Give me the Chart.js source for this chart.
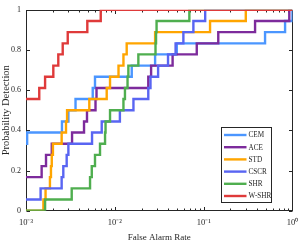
<!DOCTYPE html>
<html>
<head>
<meta charset="utf-8">
<script src="https://cdn.jsdelivr.net/npm/chart.js@4.4.1/dist/chart.umd.min.js"></script>
<style>
  html, body { margin: 0; padding: 0; background: #fff; }
  #wrap { width: 300px; height: 245px; }
</style>
</head>
<body>
<div id="wrap"><canvas id="roc"></canvas></div>
<script>
// ROC curves, false alarm rate (log) vs probability of detection
const seriesNames = ['CEM', 'ACE', 'STD', 'CSCR', 'SHR', 'W-SHR'];
const seriesColors = ['#4b96ff', '#7d2b9c', '#ffa500', '#5965f2', '#4fae4f', '#df3a3a'];

const cemFar = [0.001, 0.00103, 0.00254, 0.0030, 0.00361, 0.00564, 0.00598, 0.0155, 0.0284, 0.0498, 0.491, 0.825, 1];
const cemPd  = [0.333, 0.389, 0.444, 0.5, 0.556, 0.611, 0.667, 0.722, 0.778, 0.833, 0.889, 0.944, 1];

const aceFar = [0.001, 0.0015, 0.00168, 0.00195, 0.0033, 0.0045, 0.00486, 0.00606, 0.00622, 0.0238, 0.0256, 0.0447, 0.0836, 0.146, 0.379, 0.92, 1];
const acePd  = [0.167, 0.222, 0.278, 0.333, 0.389, 0.444, 0.5, 0.556, 0.611, 0.667, 0.722, 0.778, 0.833, 0.889, 0.944, 1, 1];

const stdFar = [0.001, 0.00157, 0.00166, 0.00186, 0.00191, 0.00195, 0.00201, 0.00252, 0.00282, 0.0029, 0.00516, 0.0081, 0.00883, 0.011, 0.0125, 0.0136, 0.0284, 0.118, 0.298, 1];
const stdPd  = [0, 0.056, 0.111, 0.167, 0.222, 0.278, 0.333, 0.389, 0.444, 0.5, 0.556, 0.611, 0.667, 0.722, 0.778, 0.833, 0.889, 0.944, 1, 1];

const cscrFar = [0.001, 0.00146, 0.00252, 0.00263, 0.00287, 0.0030, 0.00554, 0.00712, 0.0114, 0.0162, 0.0238, 0.0252, 0.0307, 0.0397, 0.0483, 0.0591, 0.0766, 0.104, 1];
const cscrPd  = [0.056, 0.111, 0.167, 0.222, 0.278, 0.333, 0.389, 0.444, 0.5, 0.556, 0.611, 0.667, 0.722, 0.778, 0.833, 0.889, 0.944, 1, 1];

const shrFar = [0.001, 0.00164, 0.00327, 0.00526, 0.0055, 0.00598, 0.00681, 0.00776, 0.00786, 0.00883, 0.0125, 0.013, 0.0139, 0.0142, 0.0184, 0.0287, 0.0291, 0.0295, 0.069, 1];
const shrPd  = [0, 0.056, 0.111, 0.167, 0.222, 0.278, 0.333, 0.389, 0.444, 0.5, 0.556, 0.611, 0.667, 0.722, 0.778, 0.833, 0.889, 0.944, 1, 1];

const wshrFar = [0.001, 0.00141, 0.00164, 0.00203, 0.00231, 0.00259, 0.00295, 0.0049, 0.00694, 1];
const wshrPd  = [0.556, 0.611, 0.667, 0.722, 0.778, 0.833, 0.889, 0.944, 1, 1];

const xTickValues = [0.001, 0.01, 0.1, 1];
const xTickLabels = ['10\u207B\u00B3', '10\u207B\u00B2', '10\u207B\u00B9', '10\u2070'];
const yTickLabels = ['0', '0.2', '0.4', '0.6', '0.8', '1'];

const allFar = [cemFar, aceFar, stdFar, cscrFar, shrFar, wshrFar];
const allPd = [cemPd, acePd, stdPd, cscrPd, shrPd, wshrPd];

const FONT = 'Liberation Serif, Times New Roman, serif';
const INK = '#262626';

const datasets = seriesNames.map((name, i) => ({
    label: name,
    data: allFar[i].map((x, j) => ({ x: x, y: allPd[i][j] })),
    borderColor: seriesColors[i],
    backgroundColor: seriesColors[i],
    borderWidth: 2.4,
    pointRadius: 0,
    stepped: true,
    fill: false,
    order: seriesNames.length - i
}));

// box around the plot plus inward tick marks
const frameTicks = {
    id: 'frameTicks',
    beforeDatasetsDraw(chart) {
        const ctx = chart.ctx;
        const a = chart.chartArea;
        const xs = chart.scales.x;
        const ys = chart.scales.y;
        ctx.save();
        ctx.strokeStyle = INK;
        ctx.lineWidth = 1;
        const L = Math.round(a.left) + 0.5, R = Math.round(a.right) - 0.5;
        const T = Math.round(a.top) + 0.5, B = Math.round(a.bottom) - 0.5;
        ctx.strokeRect(L, T, R - L, B - T);
        ctx.beginPath();
        for (let e = -3; e < 0; e++) {
            for (let m = 1; m <= 9; m++) {
                const px = Math.round(xs.getPixelForValue(m * Math.pow(10, e))) + 0.5;
                const len = m === 1 ? 3.5 : 2;
                ctx.moveTo(px, B); ctx.lineTo(px, B - len);
                ctx.moveTo(px, T); ctx.lineTo(px, T + len);
            }
        }
        for (let k = 0; k <= 5; k++) {
            const py = Math.round(ys.getPixelForValue(k * 0.2)) + 0.5;
            ctx.moveTo(L, py); ctx.lineTo(L + 3.5, py);
            ctx.moveTo(R, py); ctx.lineTo(R - 3.5, py);
        }
        ctx.stroke();
        ctx.restore();
    }
};

// legend box inside the lower right of the plot
const insideLegend = {
    id: 'insideLegend',
    afterDraw(chart) {
        const ctx = chart.ctx;
        const a = chart.chartArea;
        const bx = Math.round(a.right) - 71.5, by = Math.round(a.bottom) - 83.5;
        const bw = 50, bh = 75;
        ctx.save();
        ctx.fillStyle = '#fff';
        ctx.fillRect(bx, by, bw, bh);
        ctx.strokeStyle = INK;
        ctx.lineWidth = 1;
        ctx.strokeRect(bx, by, bw, bh);
        ctx.font = '7.2px ' + FONT;
        ctx.textBaseline = 'middle';
        ctx.textAlign = 'left';
        chart.data.datasets.forEach((ds, i) => {
            const y = by + 7.5 + i * 12.2;
            ctx.strokeStyle = ds.borderColor;
            ctx.lineWidth = 2.4;
            ctx.beginPath();
            ctx.moveTo(bx + 2.5, y);
            ctx.lineTo(bx + 25, y);
            ctx.stroke();
            ctx.fillStyle = INK;
            ctx.fillText(ds.label, bx + 27, y + 0.5);
        });
        ctx.restore();
    }
};

new Chart(document.getElementById('roc'), {
    type: 'line',
    data: { datasets: datasets },
    options: {
        responsive: true,
        maintainAspectRatio: false,
        animation: false,
        devicePixelRatio: 1,
        layout: { padding: { left: 0, right: 7.5, top: 5, bottom: 0 } },
        plugins: {
            legend: { display: false },
            tooltip: { enabled: false }
        },
        scales: {
            x: {
                type: 'logarithmic',
                min: 0.001,
                max: 1,
                afterBuildTicks: (s) => {
                    s.ticks = xTickValues.map(v => ({ value: v, major: true }));
                },
                afterFit: (s) => {
                    s.height = 34.3;
                    s.paddingLeft = 0;
                    s.paddingRight = 0;
                },
                grid: { display: false, drawTicks: false },
                border: { display: false },
                ticks: {
                    autoSkip: false,
                    maxRotation: 0,
                    padding: 7,
                    color: INK,
                    font: { family: FONT, size: 8.5 },
                    callback: (v, i) => xTickLabels[i]
                },
                title: {
                    display: true,
                    text: 'False Alarm Rate',
                    color: INK,
                    font: { family: FONT, size: 9 },
                    padding: { top: 0, bottom: 2 }
                }
            },
            y: {
                type: 'linear',
                min: 0,
                max: 1,
                afterFit: (s) => { s.width = 26; },
                grid: { display: false, drawTicks: false },
                border: { display: false },
                ticks: {
                    stepSize: 0.2,
                    padding: 5,
                    color: INK,
                    font: { family: FONT, size: 8 },
                    callback: (v, i) => yTickLabels[i]
                },
                title: {
                    display: true,
                    text: 'Probability Detection',
                    color: INK,
                    font: { family: FONT, size: 10.5 },
                    padding: { top: 0, bottom: 0 }
                }
            }
        }
    },
    plugins: [frameTicks, insideLegend]
});
</script>
</body>
</html>
